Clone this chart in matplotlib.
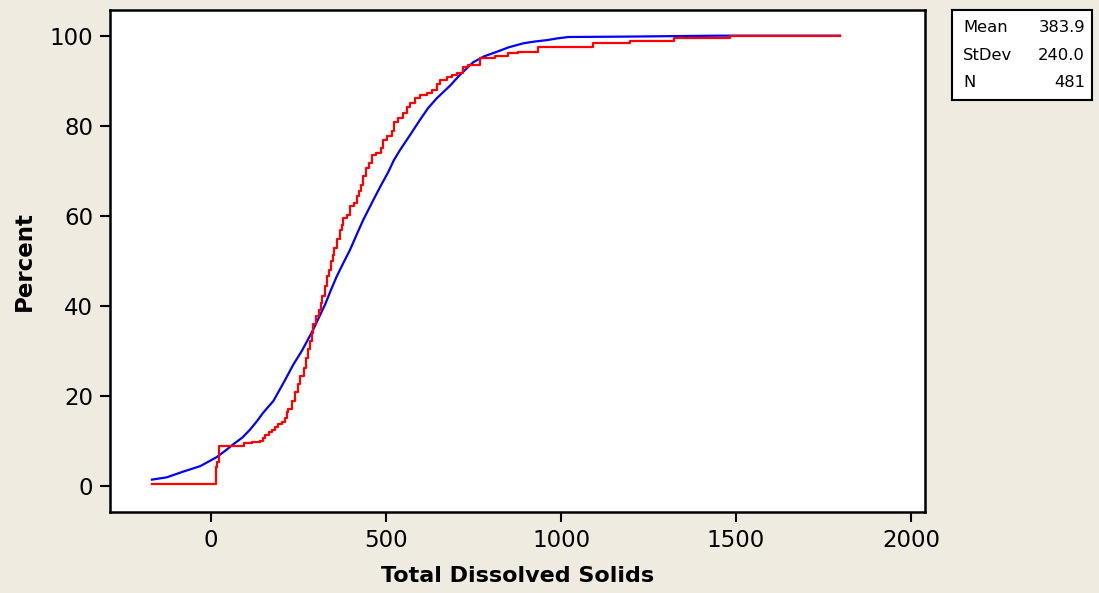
import numpy as np
import matplotlib
matplotlib.use("Agg")
import matplotlib.pyplot as plt

red_x = [-170, 14, 18, 22, 95, 116, 140, 149, 154, 164, 173, 183, 192, 202, 211,
         216, 221, 230, 240, 247, 254, 264, 271, 278, 283, 288, 292, 299, 307, 313,
         318, 324, 331, 337, 342, 348, 352, 359, 367, 373, 378, 388, 397, 407, 416,
         423, 429, 435, 443, 452, 459, 471, 485, 492, 502, 516, 523, 535, 549, 559,
         569, 583, 597, 616, 631, 645, 654, 673, 688, 702, 721, 735, 769, 811, 849,
         878, 935, 1092, 1197, 1323, 1483, 1797]
red_y = [0.5, 4.2, 5.3, 8.9, 9.5, 9.8, 10.0, 10.6, 11.3, 11.9, 12.5, 13.2, 13.7, 14.3, 15.0,
         16.4, 17.1, 18.9, 20.8, 22.6, 24.5, 26.3, 28.5, 30.4, 32.2, 34.1, 35.9, 37.8, 39.2, 40.7,
         42.2, 44.4, 46.6, 48.1, 50.0, 51.4, 52.9, 54.8, 57.0, 58.1, 59.6, 60.3, 62.2, 62.9, 64.4,
         65.5, 67.0, 68.8, 70.7, 71.8, 73.6, 74.0, 75.1, 76.9, 77.7, 78.8, 81.0, 81.8, 82.9, 84.3,
         85.2, 86.2, 86.9, 87.3, 88.0, 89.4, 90.2, 90.8, 91.4, 91.9, 93.1, 93.6, 95.1, 95.6, 96.2,
         96.5, 97.6, 98.4, 98.9, 99.5, 100.0, 100.0]

# fitted normal CDF (blue line)
blue_x = [-169, -127, -79, -31, 16, 40, 64, 90, 111, 130, 149, 178, 211, 235, 259,
          275, 292, 309, 326, 342, 359, 378, 397, 416, 435, 452, 469, 488, 507, 522,
          540, 570, 597, 620, 645, 683, 711, 749, 780, 816, 850, 892, 925, 959, 990,
          1021, 1200, 1454, 1797]
blue_y = [1.4, 1.9, 3.2, 4.4, 6.4, 7.8, 9.3, 10.8, 12.5, 14.3, 16.3, 18.9, 23.5, 27.0, 30.0,
          32.3, 34.8, 37.6, 40.4, 43.5, 46.6, 49.6, 52.5, 55.9, 59.2, 61.8, 64.4, 67.2, 69.9, 72.4,
          74.7, 78.2, 81.4, 84.0, 86.2, 89.0, 91.4, 94.2, 95.5, 96.5, 97.5, 98.4, 98.8, 99.1, 99.5,
          99.8, 99.9, 100.1, 100.1]

stat_names = ["Mean", "StDev", "N"]
stat_values = ["383.9", "240.0", "481"]

bg = "#efebe1"
plt.rcParams['font.family'] = ['DejaVu Sans']

fig = plt.figure(figsize=(10.99, 5.93), dpi=100, facecolor=bg)
ax = fig.add_axes([0.1001, 0.1366, 0.7416, 0.8465])
ax.set_facecolor("white")

ax.plot(blue_x, blue_y, color="#0000ff", lw=1.6)
ax.plot(red_x, red_y, color="#ff0000", lw=1.6, drawstyle="steps-post")

ax.set_xlim(-289, 2040)
ax.set_ylim(-5.8, 105.8)
ax.set_xticks([0, 500, 1000, 1500, 2000])
ax.set_yticks([0, 20, 40, 60, 80, 100])
ax.tick_params(labelsize=16.5, length=7, width=1.5, direction="out", pad=5)
for s in ax.spines.values():
    s.set_linewidth(1.8)

ax.set_xlabel("Total Dissolved Solids", fontsize=16, fontweight="bold", labelpad=10)
ax.set_ylabel("Percent", fontsize=16.5, fontweight="bold", labelpad=10)

# stats box
bx = fig.add_axes([952 / 1099, 1 - 100 / 593, 140 / 1099, 90 / 593])
bx.set_xticks([])
bx.set_yticks([])
bx.set_facecolor("white")
for s in bx.spines.values():
    s.set_linewidth(1.5)
for i, (n, v) in enumerate(zip(stat_names, stat_values)):
    yy = 0.8 - i * 0.305
    bx.text(0.08, yy, n, fontsize=11.8, va="center", ha="left", transform=bx.transAxes)
    bx.text(0.95, yy, v, fontsize=11.8, va="center", ha="right", transform=bx.transAxes)

fig.savefig("out.png", dpi=100, facecolor=bg)
